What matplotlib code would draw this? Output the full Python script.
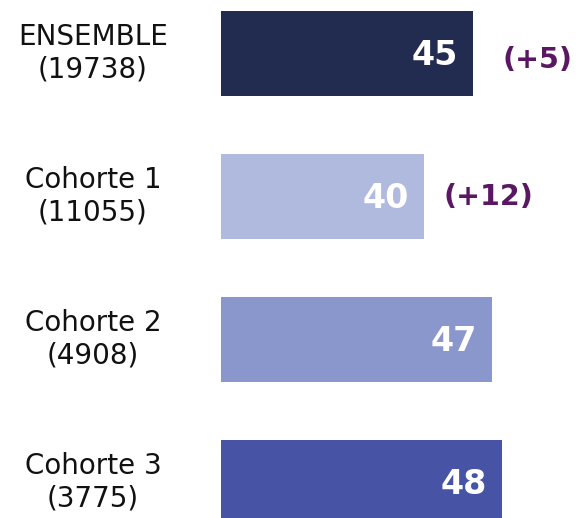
import matplotlib.pyplot as plt

# data
groups = ['ENSEMBLE\n(19738)', 'Cohorte 1\n(11055)', 'Cohorte 2\n(4908)', 'Cohorte 3\n(3775)']
values = [45, 40, 47, 48]
deltas = ['(+5)', '(+12)', '', '']

colors = ['#222B50', '#B0B9DE', '#8A97CD', '#4754A5']
delta_color = '#5B1862'

fig = plt.figure(figsize=(5.81, 5.18), dpi=100)
ax = fig.add_axes([221/581, 0, 360/581, 1])

pos = range(len(values))
ax.barh(pos, values, height=0.594, color=colors, left=0)
ax.set_xlim(19, 56.2)
ax.set_ylim(3.248, -0.374)
ax.axis('off')

delta_pad = [30, 19, 0, 0]  # px gap between bar end and delta label
for i, v in enumerate(values):
    ax.annotate(str(v), (v, i), xytext=(-15, -2), textcoords='offset pixels',
                ha='right', va='center', color='white', fontsize=24,
                fontweight='bold')
    if deltas[i]:
        dy = -7 if i == 0 else 0
        ax.annotate(deltas[i], (v, i), xytext=(delta_pad[i], dy),
                    textcoords='offset pixels', ha='left', va='center',
                    color=delta_color, fontsize=20.5, fontweight='bold')
    ax.annotate(groups[i], (19, i), xytext=(-128, 0), textcoords='offset pixels',
                ha='center', va='center', multialignment='center',
                fontsize=20, color='#111111', linespacing=1.2,
                annotation_clip=False)

fig.savefig('out.png', dpi=100)
